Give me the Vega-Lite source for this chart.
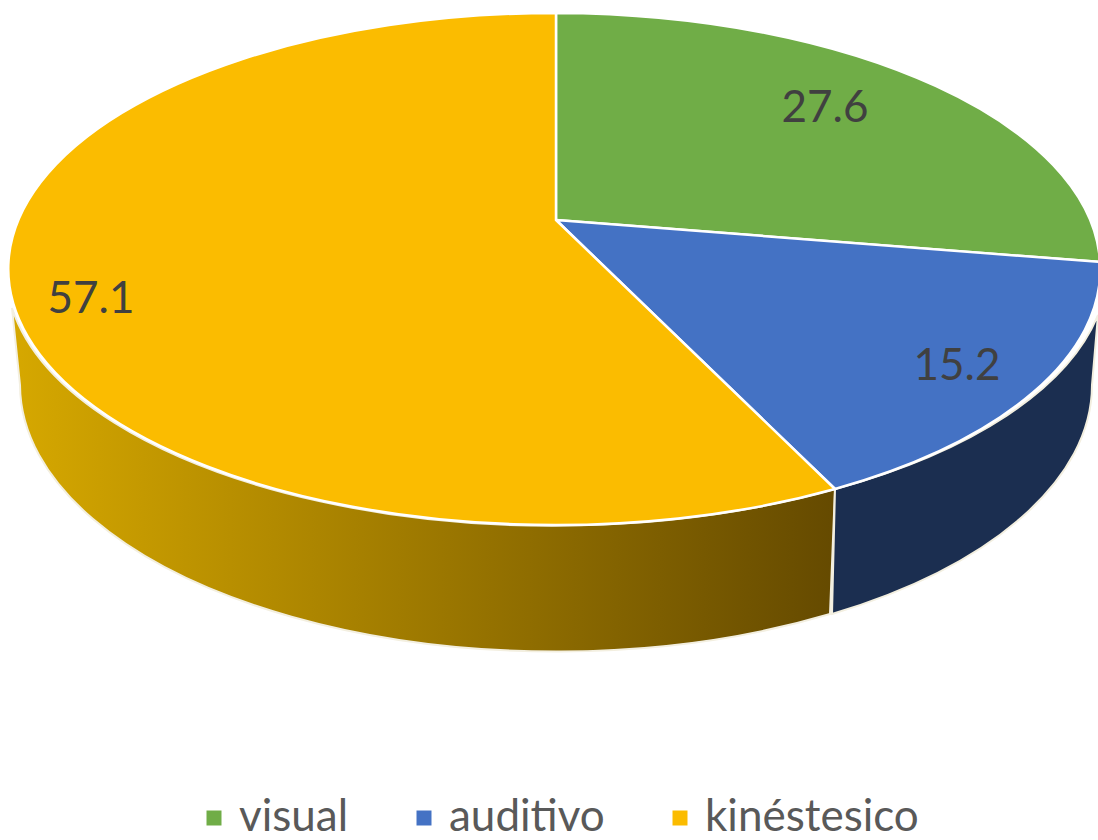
{
  "$schema": "https://vega.github.io/schema/vega-lite/v6.json",
  "width": 1098,
  "height": 840,
  "autosize": {"type": "none"},
  "padding": 0,
  "background": "white",
  "config": {"view": {"stroke": null}},
  "data": {"values": [
    {"categoria": "visual", "valor": 27.6},
    {"categoria": "auditivo", "valor": 15.2},
    {"categoria": "kinéstesico", "valor": 57.1}
  ]},
  "layer": [
    {
      "mark": {"type": "square", "size": 0, "opacity": 1},
      "encoding": {
        "color": {
          "field": "categoria", "type": "nominal",
          "scale": {"domain": ["visual", "auditivo", "kinéstesico"], "range": ["#70ad47", "#4472c4", "#fbbc00"]},
          "legend": {
            "orient": "none", "direction": "horizontal", "columns": 3, "title": null,
            "legendX": 192, "legendY": 796, "columnPadding": 53, "labelOffset": 3,
            "symbolType": "square", "symbolSize": 225, "symbolStrokeWidth": 0,
            "labelFont": "Lato", "labelFontSize": 44, "labelColor": "#595959", "labelLimit": 400
          }
        }
      }
    },
    {
      "transform": [{"filter": "datum.categoria === 'kinéstesico'"}],
      "mark": {
        "type": "point", "filled": true, "size": 4, "opacity": 1,
        "shape": "M286,69 A547,256 0 0 1 -537,-112 L-529,-35 A536,267 0 0 0 281,194 Z",
        "fill": {"gradient": "linear", "x1": 0, "x2": 1, "y1": 0, "y2": 0,
          "stops": [{"offset": 0, "color": "#d6a800"}, {"offset": 1, "color": "#654a00"}]},
        "stroke": "#f3efe0", "strokeWidth": 2
      },
      "encoding": {}
    },
    {
      "transform": [{"filter": "datum.categoria === 'auditivo'"}],
      "mark": {
        "type": "point", "filled": true, "size": 4, "opacity": 1,
        "shape": "M286,69 A547,256 0 0 0 549,-105 L543,-35 A536,267 0 0 1 283,194 Z",
        "fill": "#1b2e50",
        "stroke": "#f3efe0", "strokeWidth": 2
      },
      "encoding": {}
    },
    {
      "transform": [{"filter": "datum.categoria === 'visual'"}],
      "mark": {"type": "point", "filled": true, "size": 4, "opacity": 1, "stroke": "white", "strokeWidth": 2.5,
        "shape": "M7,-200 L7,-407 A547,256 0 0 1 551,-158 Z"},
      "encoding": {"color": {"field": "categoria", "type": "nominal", "legend": null}}
    },
    {
      "transform": [{"filter": "datum.categoria === 'auditivo'"}],
      "mark": {"type": "point", "filled": true, "size": 4, "opacity": 1, "stroke": "white", "strokeWidth": 2.5,
        "shape": "M7,-200 L551,-158 A547,256 0 0 1 286,69 Z"},
      "encoding": {"color": {"field": "categoria", "type": "nominal", "legend": null}}
    },
    {
      "transform": [{"filter": "datum.categoria === 'kinéstesico'"}],
      "mark": {"type": "point", "filled": true, "size": 4, "opacity": 1, "stroke": "white", "strokeWidth": 2.5,
        "shape": "M7,-200 L286,69 A547,256 0 1 1 7,-407 Z"},
      "encoding": {"color": {"field": "categoria", "type": "nominal", "legend": null}}
    },
    {
      "transform": [{"filter": "datum.categoria === 'visual'"}],
      "mark": {"type": "text", "font": "Lato", "fontSize": 44, "color": "#404040", "dx": 276, "dy": -311},
      "encoding": {"text": {"field": "valor", "type": "quantitative", "format": ".1f"}}
    },
    {
      "transform": [{"filter": "datum.categoria === 'auditivo'"}],
      "mark": {"type": "text", "font": "Lato", "fontSize": 44, "color": "#404040", "dx": 408, "dy": -53},
      "encoding": {"text": {"field": "valor", "type": "quantitative", "format": ".1f"}}
    },
    {
      "transform": [{"filter": "datum.categoria === 'kinéstesico'"}],
      "mark": {"type": "text", "font": "Lato", "fontSize": 44, "color": "#404040", "dx": -458, "dy": -120},
      "encoding": {"text": {"field": "valor", "type": "quantitative", "format": ".1f"}}
    }
  ]
}
